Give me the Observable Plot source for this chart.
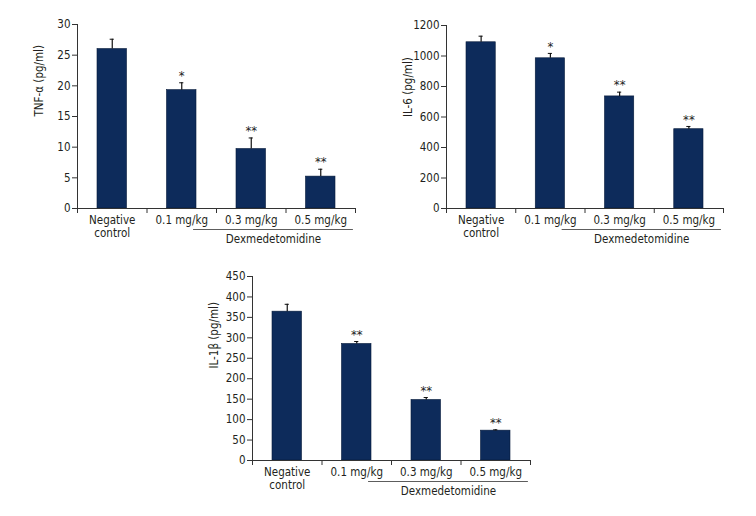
<!DOCTYPE html>
<html>
<head>
<meta charset="utf-8">
<script src="https://cdn.jsdelivr.net/npm/d3@7"></script>
<script src="https://cdn.jsdelivr.net/npm/@observablehq/plot@0.6"></script>
<style>
  html, body { margin: 0; padding: 0; background: #fff; }
  #wrap { position: relative; width: 756px; height: 516px; overflow: hidden; }
  #wrap > div { position: absolute; }
  svg { font-family: "Liberation Sans Narrow", "DejaVu Sans", sans-serif; font-stretch: condensed; }
</style>
</head>
<body>
<div id="wrap">
  <div id="c1" style="left:0px;top:0px;"></div>
  <div id="c2" style="left:378px;top:0px;"></div>
  <div id="c3" style="left:180px;top:250px;"></div>
</div>
<script>
// Categories
const groups = ["Negative\ncontrol", "0.1 mg/kg", "0.3 mg/kg", "0.5 mg/kg"];
const treatmentLabel = "Dexmedetomidine";

// TNF-α (pg/ml)
const tnfMean = [26.0, 19.3, 9.7, 5.2];
const tnfErr  = [1.6, 1.2, 1.8, 1.2];
const tnfSig  = ["", "*", "**", "**"];
const tnfTicks = [0, 5, 10, 15, 20, 25, 30];

// IL-6 (pg/ml)
const il6Mean = [1090, 985, 735, 520];
const il6Err  = [40, 32, 28, 18];
const il6Sig  = ["", "*", "**", "**"];
const il6Ticks = [0, 200, 400, 600, 800, 1000, 1200];

// IL-1β (pg/ml)
const il1Mean = [364, 285, 148, 73];
const il1Err  = [18, 6, 6, 2];
const il1Sig  = ["", "**", "**", "**"];
const il1Ticks = [0, 50, 100, 150, 200, 250, 300, 350, 400, 450];

const navy = "#0d2b5b";
const ink = "#231f20";

function chart({mean, err, sig, ticks, label, ymax, width, height, mt, mb, ml, mr}) {
  const data = groups.map((g, i) => ({i, g, m: mean[i], e: err[i], s: sig[i]}));
  return Plot.plot({
    width, height,
    marginTop: mt, marginBottom: mb, marginLeft: ml, marginRight: mr,
    style: {fontSize: "11px", color: ink, background: "transparent"},
    x: {domain: [0, 4], axis: null},
    y: {domain: [0, ymax], axis: null},
    marks: [
      // bars
      Plot.rectY(data, {x1: d => d.i, x2: d => d.i + 1, y1: 0, y2: "m",
        fill: navy, stroke: "#061a3a", strokeWidth: 0.6, insetLeft: 20, insetRight: 20}),
      // error bars (upper)
      Plot.ruleX(data, {x: d => d.i + 0.5, y1: "m", y2: d => d.m + d.e, stroke: "#111", strokeWidth: 1.2}),
      Plot.ruleY(data, {y: d => d.m + d.e, x1: d => d.i + 0.5 - 0.03, x2: d => d.i + 0.5 + 0.03, stroke: "#111", strokeWidth: 1}),
      // significance
      Plot.text(data, {x: d => d.i + 0.5, y: d => d.m + d.e, text: "s", dy: -7, fontSize: 13, fill: "#222"}),
      // axes lines
      Plot.ruleX([0], {y1: 0, y2: ymax, stroke: "#333", strokeWidth: 1}),
      Plot.ruleY([0], {x1: 0, x2: 4, stroke: "#333", strokeWidth: 1}),
      // y ticks
      Plot.ruleY(ticks, {y: d => d, x1: 0, x2: 0, stroke: "#333", insetLeft: -5}),
      Plot.text(ticks, {x: 0, y: d => d, text: d => String(d), textAnchor: "end", dx: -7, fill: ink, fontSize: 11.5}),
      // x ticks at band boundaries
      Plot.ruleX([0, 1, 2, 3, 4], {x: d => d, y1: 0, y2: 0, insetBottom: -5, stroke: "#333"}),
      // x labels
      Plot.text(data, {x: d => d.i + 0.5, y: 0, text: "g", dy: 7, lineAnchor: "top", fill: ink, fontSize: 11.5, lineHeight: 1.1}),
      // treatment bracket
      Plot.ruleY([0], {x1: 1.67, x2: 3.97, dy: 21, stroke: "#333", strokeWidth: 0.8}),
      Plot.text([treatmentLabel], {x: 2.82, y: 0, text: d => d, dy: 31, fill: ink, fontSize: 11.5}),
      // y axis title
      Plot.text([label], {frameAnchor: "left", text: d => d, rotate: -90, dx: -38, fill: ink, fontSize: 11.5})
    ]
  });
}

document.getElementById("c1").appendChild(chart({
  mean: tnfMean, err: tnfErr, sig: tnfSig, ticks: tnfTicks, label: "TNF-α (pg/ml)", ymax: 30,
  width: 378, height: 250, mt: 24, mb: 42, ml: 77, mr: 23
}));
document.getElementById("c2").appendChild(chart({
  mean: il6Mean, err: il6Err, sig: il6Sig, ticks: il6Ticks, label: "IL-6 (pg/ml)", ymax: 1200,
  width: 378, height: 250, mt: 25, mb: 42, ml: 68, mr: 33
}));
document.getElementById("c3").appendChild(chart({
  mean: il1Mean, err: il1Err, sig: il1Sig, ticks: il1Ticks, label: "IL-1β (pg/ml)", ymax: 450,
  width: 380, height: 266, mt: 26, mb: 56, ml: 72, mr: 30
}));
</script>
</body>
</html>
